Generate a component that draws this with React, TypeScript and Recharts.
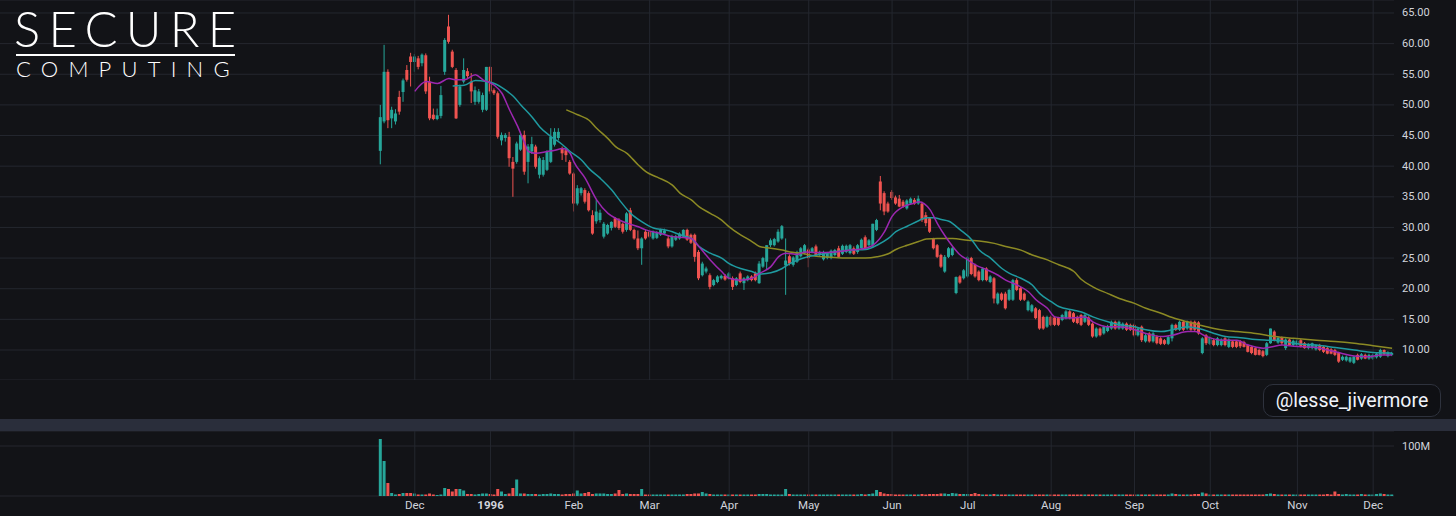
import {
  ComposedChart,
  BarChart,
  Bar,
  Line,
  XAxis,
  YAxis,
  CartesianGrid,
  ReferenceLine,
  Cell,
} from 'recharts';

// daily candles, one row per trading day: [open, high, low, close, volume (M)]
const nov95 = [
  [42.5, 50.0, 40.3, 48.0, 114], [47.3, 59.8, 47.0, 55.4, 70], [55.4, 55.8, 46.2, 47.5, 26],
  [47.8, 49.7, 46.2, 49.2, 6], [47.3, 49.3, 46.8, 48.6, 3], [51.3, 52.3, 48.4, 48.9, 4],
  [52.1, 54.3, 50.5, 54.0, 6], [55.7, 56.5, 53.8, 54.1, 6], [57.9, 58.5, 53.0, 57.0, 6],
];
const dec95 = [
  [57.0, 58.3, 55.4, 57.9, 5], [57.6, 58.0, 55.8, 56.2, 3], [56.8, 58.4, 56.3, 58.2, 3],
  [58.1, 58.4, 51.8, 52.2, 3], [53.8, 54.6, 47.5, 47.8, 5], [48.4, 49.4, 47.5, 47.7, 3],
  [47.7, 49.4, 47.5, 48.3, 2], [48.2, 53.1, 47.8, 51.6, 3], [55.4, 60.9, 54.9, 60.6, 16],
  [62.8, 64.7, 60.0, 60.3, 14], [58.7, 59.0, 56.0, 56.2, 9], [55.7, 56.0, 47.7, 47.8, 14],
  [50.0, 53.3, 49.7, 53.0, 14], [53.8, 57.6, 53.5, 55.7, 11], [55.5, 56.0, 54.2, 54.7, 4],
  [53.8, 55.2, 50.3, 52.2, 4], [50.5, 53.0, 50.0, 52.4, 3], [50.5, 52.6, 50.2, 52.2, 4],
  [49.2, 52.0, 48.8, 51.6, 5], [49.2, 56.2, 49.0, 56.2, 5],
];
const jan96 = [
  [56.2, 56.3, 51.8, 52.2, 4], [52.4, 52.7, 51.6, 51.9, 3], [51.9, 52.2, 44.5, 44.8, 14],
  [44.2, 45.5, 43.4, 45.1, 9], [44.6, 45.4, 44.0, 45.1, 4], [44.8, 45.6, 39.9, 41.3, 5],
  [40.7, 41.5, 35.0, 39.6, 16], [40.7, 44.0, 40.4, 43.7, 33], [42.7, 45.6, 42.5, 45.1, 5],
  [45.1, 45.8, 38.6, 39.1, 5], [40.7, 43.6, 37.2, 43.2, 4], [42.4, 44.8, 42.0, 43.6, 4],
  [43.2, 43.5, 39.6, 39.9, 4], [38.6, 41.6, 38.0, 41.3, 3], [38.6, 41.5, 38.3, 41.0, 4],
  [39.4, 42.6, 39.2, 42.4, 4], [40.7, 46.2, 40.5, 44.8, 5], [43.5, 46.2, 43.2, 45.6, 4],
  [44.6, 46.2, 44.2, 45.6, 4], [42.9, 43.2, 41.0, 42.1, 3], [42.6, 43.0, 40.7, 41.8, 4],
  [40.7, 41.0, 38.6, 38.8, 4],
];
const feb96 = [
  [38.8, 39.0, 32.6, 33.9, 5], [33.9, 36.9, 33.6, 36.4, 11], [35.6, 36.6, 35.2, 36.4, 5],
  [36.1, 36.4, 33.9, 34.2, 6], [35.6, 35.9, 32.6, 32.8, 8], [32.0, 32.8, 28.8, 29.0, 4],
  [31.0, 34.5, 30.6, 32.6, 5], [31.2, 32.9, 30.8, 32.4, 5], [28.5, 30.9, 28.2, 30.6, 5],
  [29.0, 30.6, 28.8, 30.4, 4], [29.9, 31.0, 29.5, 30.9, 4], [31.5, 31.7, 29.9, 30.1, 5],
  [31.2, 31.5, 29.6, 29.9, 12], [30.6, 30.8, 29.0, 29.3, 4], [29.6, 32.5, 29.3, 32.3, 5],
  [32.8, 33.2, 29.4, 29.6, 4], [29.6, 29.8, 28.0, 28.2, 4], [28.2, 29.5, 26.3, 26.6, 4],
  [26.6, 28.4, 23.9, 28.2, 14], [29.3, 29.6, 28.0, 28.2, 3],
];
const mar96 = [
  [29.3, 29.5, 28.3, 28.5, 3], [28.2, 29.5, 28.0, 29.3, 3], [28.3, 29.4, 28.1, 29.2, 3],
  [28.8, 29.8, 28.6, 29.6, 3], [29.0, 29.8, 28.8, 29.5, 3], [28.2, 28.6, 26.6, 26.9, 3],
  [26.9, 28.8, 26.7, 28.6, 3], [28.0, 28.8, 27.8, 28.6, 3], [28.2, 29.2, 28.0, 29.0, 3],
  [28.5, 29.7, 28.4, 29.6, 3], [29.6, 29.8, 27.8, 28.0, 4], [28.8, 29.0, 27.3, 27.5, 4],
  [28.8, 29.0, 24.4, 25.2, 5], [26.0, 26.3, 21.4, 21.7, 5], [22.2, 24.4, 22.0, 24.1, 8],
  [22.8, 23.6, 22.5, 23.3, 5], [22.2, 22.5, 19.9, 20.3, 4], [20.6, 21.6, 20.4, 21.4, 3],
  [21.1, 22.2, 20.9, 22.0, 3], [21.7, 22.3, 21.5, 22.1, 3], [22.1, 22.4, 21.3, 21.5, 3],
];
const apr96 = [
  [21.7, 22.7, 21.5, 22.5, 3], [21.7, 22.0, 19.8, 20.3, 3], [20.6, 21.9, 20.4, 21.7, 3],
  [22.5, 22.8, 20.9, 21.1, 3], [20.9, 21.9, 19.8, 21.7, 3], [21.4, 22.2, 21.2, 22.0, 3],
  [22.0, 22.2, 21.2, 21.4, 3], [22.5, 22.8, 21.2, 21.4, 3], [20.9, 24.5, 20.8, 24.1, 4],
  [23.6, 25.2, 23.4, 25.0, 4], [24.4, 27.1, 23.1, 27.1, 4], [27.1, 28.2, 26.8, 27.9, 3],
  [27.1, 28.3, 26.9, 28.1, 3], [27.7, 29.7, 27.5, 29.3, 3], [28.2, 30.4, 28.0, 30.2, 3],
  [23.8, 28.2, 19.0, 24.6, 14], [25.3, 25.6, 23.8, 24.1, 4], [23.9, 25.3, 23.6, 25.1, 3],
  [24.4, 26.2, 24.2, 26.0, 3], [25.3, 26.8, 25.1, 26.6, 3], [25.8, 27.3, 25.6, 27.1, 3],
];
const may96 = [
  [26.4, 26.7, 23.5, 25.0, 3], [26.0, 26.8, 25.8, 26.6, 3], [26.9, 27.2, 25.3, 25.5, 3],
  [25.5, 26.2, 25.3, 26.0, 3], [24.8, 26.2, 24.6, 26.0, 3], [25.0, 26.0, 24.8, 25.8, 3],
  [25.0, 26.4, 24.8, 26.2, 3], [25.5, 26.5, 25.3, 26.3, 3], [26.6, 27.0, 25.0, 25.2, 3],
  [25.7, 27.2, 25.5, 27.0, 3], [26.0, 27.2, 25.8, 27.0, 3], [25.8, 27.3, 25.6, 27.1, 3],
  [26.6, 26.9, 25.5, 25.7, 3], [26.0, 27.3, 25.7, 27.1, 3], [26.6, 28.2, 26.4, 28.0, 4],
  [28.4, 28.7, 26.4, 26.6, 3], [27.1, 28.1, 26.9, 27.9, 4], [27.1, 30.6, 26.7, 30.6, 5],
  [29.6, 31.4, 29.4, 31.2, 12], [37.5, 38.4, 32.8, 33.9, 8], [35.6, 35.9, 32.0, 32.6, 5],
  [33.9, 34.2, 32.4, 32.6, 4],
];
const jun96 = [
  [35.8, 36.1, 34.5, 34.8, 4], [34.9, 35.2, 33.7, 33.9, 3], [34.7, 35.3, 33.3, 33.4, 3],
  [34.2, 34.5, 33.2, 33.4, 3], [33.1, 34.6, 32.9, 34.4, 3], [33.9, 34.9, 33.7, 34.7, 3],
  [34.5, 34.8, 33.7, 33.9, 3], [33.9, 35.2, 33.7, 34.7, 3], [33.9, 34.2, 30.9, 31.2, 4],
  [32.0, 32.5, 30.2, 30.7, 3], [31.5, 31.7, 29.1, 29.3, 4], [28.2, 28.3, 26.4, 26.6, 4],
  [27.1, 27.3, 25.0, 25.2, 4], [25.5, 25.7, 23.4, 23.6, 5], [22.8, 25.5, 22.6, 25.2, 5],
  [25.2, 26.8, 25.0, 26.6, 4], [25.5, 26.8, 25.3, 26.6, 6], [19.3, 22.0, 19.1, 21.9, 5],
  [22.0, 22.2, 20.8, 21.0, 4], [21.7, 23.2, 21.5, 23.0, 4],
];
const jul96 = [
  [22.0, 25.3, 21.8, 25.1, 4], [25.0, 25.2, 22.2, 22.4, 4], [23.9, 24.1, 21.8, 22.0, 6],
  [22.8, 23.0, 21.2, 21.4, 4], [21.4, 23.5, 21.2, 23.3, 3], [23.3, 23.5, 21.2, 21.4, 3],
  [21.1, 22.2, 20.9, 22.0, 3], [21.7, 21.9, 17.6, 18.4, 4], [17.6, 19.4, 17.4, 19.2, 3],
  [19.2, 19.4, 18.0, 18.2, 3], [19.2, 19.5, 16.6, 16.8, 3], [18.2, 20.0, 18.0, 19.8, 3],
  [18.2, 21.6, 18.0, 21.4, 3], [21.4, 21.7, 19.6, 19.8, 3], [20.1, 20.3, 18.0, 18.2, 3],
  [19.2, 19.4, 18.0, 18.2, 3], [16.5, 18.1, 16.3, 17.9, 3], [16.3, 17.5, 16.1, 17.3, 3],
  [16.8, 17.0, 15.0, 15.2, 3], [16.5, 16.7, 13.3, 13.5, 3], [15.4, 15.6, 13.3, 13.5, 3],
  [13.8, 15.6, 13.6, 15.4, 3],
];
const aug96 = [
  [15.4, 15.6, 13.9, 14.1, 3], [15.3, 15.5, 13.9, 14.1, 3], [15.2, 15.4, 13.9, 14.1, 3],
  [14.9, 15.9, 14.7, 15.7, 3], [15.2, 16.5, 15.0, 16.3, 3], [16.3, 16.5, 15.0, 15.2, 3],
  [16.0, 16.2, 14.4, 14.6, 3], [15.4, 15.6, 14.2, 14.4, 3], [15.7, 15.9, 13.9, 14.1, 3],
  [14.6, 15.9, 14.4, 15.7, 3], [15.3, 15.5, 13.9, 14.1, 3], [14.3, 14.5, 12.0, 12.2, 3],
  [12.2, 13.7, 12.0, 13.5, 3], [13.5, 13.7, 12.2, 12.4, 3], [12.7, 14.0, 12.5, 13.8, 3],
  [13.1, 14.1, 12.9, 13.9, 3], [13.5, 14.8, 13.3, 14.6, 3], [14.6, 14.8, 13.3, 13.5, 3],
  [13.5, 14.8, 13.3, 14.6, 3], [13.5, 14.5, 13.3, 14.3, 3], [14.3, 14.5, 13.1, 13.3, 3],
  [14.1, 14.3, 13.1, 13.3, 3],
];
const sep96 = [
  [14.1, 14.3, 12.2, 12.4, 3], [12.4, 13.7, 12.2, 13.5, 3], [13.8, 14.0, 11.3, 11.6, 3],
  [11.4, 12.6, 11.2, 12.4, 3], [12.7, 12.9, 11.2, 11.4, 3], [11.4, 12.9, 11.2, 12.7, 3],
  [12.2, 12.4, 10.9, 11.1, 3], [11.9, 12.1, 10.8, 11.0, 3], [11.6, 11.8, 10.8, 11.0, 3],
  [11.0, 12.3, 10.8, 12.1, 3], [11.9, 14.3, 11.4, 14.1, 5], [14.1, 14.3, 13.1, 13.3, 4],
  [13.3, 14.8, 13.1, 14.6, 3], [14.6, 14.8, 13.1, 13.3, 3], [13.5, 14.8, 13.3, 14.6, 3],
  [14.6, 14.8, 13.1, 13.3, 3], [14.6, 14.8, 13.1, 13.3, 4], [14.5, 14.7, 12.5, 12.7, 4],
  [9.5, 12.1, 9.3, 11.9, 7], [12.4, 12.6, 10.8, 11.1, 5],
];
const oct96 = [
  [11.0, 12.2, 10.8, 12.0, 3], [11.6, 11.8, 10.6, 10.8, 3], [10.8, 12.1, 10.6, 11.9, 3],
  [10.8, 11.9, 10.6, 11.7, 3], [11.9, 12.1, 10.6, 10.8, 3], [10.5, 11.9, 10.3, 11.7, 3],
  [11.4, 11.6, 10.3, 10.5, 3], [11.4, 11.6, 10.3, 10.5, 3], [11.4, 11.6, 10.3, 10.6, 3],
  [11.3, 11.5, 10.4, 10.5, 3], [10.8, 11.0, 9.6, 9.7, 3], [10.5, 10.7, 9.3, 9.5, 3],
  [10.3, 10.5, 9.1, 9.2, 3], [10.0, 10.2, 9.1, 9.2, 3], [9.8, 10.0, 8.8, 9.0, 3],
  [9.2, 11.3, 9.0, 11.1, 4], [11.1, 13.5, 11.0, 13.5, 5], [13.0, 13.2, 11.4, 11.6, 4],
  [11.2, 12.2, 11.0, 12.0, 3], [12.0, 12.2, 10.8, 11.1, 3], [10.3, 11.9, 10.0, 11.7, 3],
  [11.7, 11.9, 10.7, 10.8, 3], [10.8, 11.7, 10.6, 11.5, 3],
];
const nov96 = [
  [10.8, 11.7, 10.6, 11.5, 3], [11.6, 11.8, 10.4, 10.5, 3], [11.1, 11.3, 10.2, 10.3, 3],
  [10.3, 11.1, 10.1, 11.0, 3], [10.3, 11.2, 10.1, 11.1, 3], [10.1, 10.9, 9.9, 10.8, 3],
  [10.8, 11.0, 9.8, 10.0, 3], [10.5, 10.7, 9.5, 9.7, 3], [10.3, 10.5, 9.3, 9.4, 4],
  [10.1, 10.3, 9.3, 9.4, 3], [10.0, 10.2, 9.0, 9.2, 9], [9.5, 9.7, 7.9, 8.1, 4],
  [8.4, 9.1, 8.2, 8.9, 3], [8.3, 9.1, 8.1, 8.9, 4], [8.1, 8.9, 7.9, 8.8, 3],
  [7.9, 9.0, 7.7, 8.9, 3], [9.2, 9.4, 8.3, 8.4, 3], [8.6, 9.5, 8.4, 9.3, 4],
  [9.2, 9.4, 8.5, 8.6, 3], [8.6, 9.4, 8.4, 9.2, 3],
];
const dec96 = [
  [8.6, 9.4, 8.4, 9.2, 3], [8.8, 9.6, 8.6, 9.4, 4], [8.9, 10.2, 8.7, 10.0, 5],
  [10.0, 10.1, 9.2, 9.3, 4], [9.0, 9.8, 8.8, 9.6, 3], [9.2, 9.7, 9.0, 9.5, 3],
];

// moving averages: [day index, value]
const ma10Pts = [
  [9, 52.2], [12, 53.8], [15, 53.5], [18, 54.3], [20, 54.1], [22, 54.1], [25, 54.9], [27, 54.1],
  [30, 53.2], [32, 51.9], [34, 49.2], [36, 46.7], [38, 43.8], [39, 42.4], [41, 42.1], [44, 42.4],
  [46, 42.6], [48, 42.9], [50, 42.1], [51, 40.7], [54, 38.0], [57, 34.5], [60, 32.3], [62, 31.5],
  [65, 30.7], [68, 30.1], [70, 29.6], [74, 29.0], [77, 28.5], [79, 28.4], [82, 28.2], [84, 26.9],
  [87, 24.7], [90, 22.8], [92, 21.7], [95, 21.4], [98, 21.7], [100, 22.5], [103, 23.6], [105, 25.2],
  [107, 25.8], [110, 25.6], [112, 26.0], [115, 25.9], [120, 26.0], [124, 26.3], [128, 26.6],
  [130, 27.1], [133, 29.3], [135, 31.8], [138, 33.4], [141, 34.0], [142, 34.2], [145, 32.9],
  [147, 30.6], [149, 28.6], [151, 26.9], [153, 25.5], [155, 24.7], [157, 23.9], [160, 23.1],
  [163, 22.2], [165, 21.4], [168, 20.6], [171, 19.5], [173, 18.2], [176, 16.8], [178, 15.4],
  [181, 15.2], [184, 15.3], [186, 15.4], [188, 14.6], [192, 13.8], [195, 13.8], [199, 13.3],
  [202, 12.7], [206, 12.2], [209, 12.4], [213, 13.0], [215, 13.0], [218, 12.2], [222, 11.6],
  [226, 11.6], [229, 10.8], [233, 10.3], [235, 10.5], [238, 10.8], [241, 10.6], [247, 10.4],
  [250, 10.0], [254, 9.4], [257, 9.0], [261, 8.9], [264, 9.2], [267, 9.2],
];
const ma20Pts = [
  [19, 53.1], [22, 53.2], [25, 54.0], [28, 53.8], [30, 53.5], [33, 52.4], [35, 51.4], [37, 50.0],
  [40, 48.0], [42, 46.4], [45, 44.8], [48, 43.5], [50, 42.4], [53, 41.0], [55, 39.6], [58, 38.0],
  [61, 36.1], [63, 34.5], [66, 32.3], [69, 30.9], [72, 29.9], [75, 29.6], [77, 29.3], [79, 28.8],
  [82, 28.2], [84, 26.9], [87, 25.8], [90, 25.0], [92, 24.1], [95, 23.3], [98, 22.8], [100, 22.4],
  [103, 22.6], [106, 23.3], [108, 24.1], [111, 24.9], [115, 25.5], [120, 26.0], [124, 26.3],
  [128, 26.4], [131, 27.1], [134, 28.2], [136, 29.3], [139, 30.2], [142, 31.1], [144, 31.6],
  [146, 31.6], [148, 31.3], [150, 31.0], [153, 29.6], [156, 28.0], [158, 26.3], [161, 25.0],
  [164, 23.3], [166, 22.5], [169, 21.7], [172, 20.6], [174, 19.2], [177, 17.9], [179, 17.1],
  [183, 16.5], [185, 16.2], [188, 15.4], [192, 14.6], [195, 14.1], [199, 13.8], [202, 13.3],
  [206, 13.0], [209, 13.3], [213, 13.8], [216, 13.5], [220, 12.7], [223, 12.2], [227, 12.0],
  [231, 11.7], [234, 11.6], [238, 11.5], [241, 11.1], [247, 10.8], [252, 10.4], [257, 10.0],
  [262, 9.6], [267, 9.5],
];
const ma50Pts = [
  [49, 49.2], [52, 48.4], [55, 47.5], [57, 46.2], [60, 44.5], [62, 43.2], [65, 42.1], [68, 40.2],
  [70, 39.1], [73, 38.2], [77, 36.9], [79, 35.6], [82, 34.5], [84, 33.4], [87, 32.3], [90, 31.2],
  [92, 30.1], [95, 28.8], [98, 27.7], [100, 26.9], [103, 26.6], [106, 26.3], [108, 26.0],
  [111, 25.8], [115, 25.3], [120, 25.1], [124, 25.0], [128, 25.0], [131, 25.2], [134, 25.7],
  [136, 26.4], [139, 27.1], [142, 27.7], [144, 28.1], [147, 28.2], [151, 28.2], [155, 27.9],
  [158, 27.8], [162, 27.4], [165, 26.9], [169, 26.3], [172, 25.5], [176, 24.7], [179, 23.9],
  [183, 22.8], [185, 21.5], [188, 20.3], [192, 19.2], [195, 18.4], [199, 17.6], [202, 16.8],
  [206, 16.0], [209, 15.3], [213, 14.6], [216, 14.1], [220, 13.5], [223, 13.2], [226, 13.0],
  [231, 12.7], [236, 12.2], [241, 11.9], [247, 11.6], [252, 11.4], [257, 11.1], [262, 10.7],
  [267, 10.3],
];

// first trading day of each month, and its label
const monthTicks = [9, 29, 51, 71, 92, 113, 135, 155, 177, 199, 219, 242, 262];
const monthLabels = ['Dec', '1996', 'Feb', 'Mar', 'Apr', 'May', 'Jun', 'Jul', 'Aug', 'Sep', 'Oct', 'Nov', 'Dec'];
const priceTicks = [10, 15, 20, 25, 30, 35, 40, 45, 50, 55, 60, 65];
const volumeTicks = [100];

const BG = '#121317';
const GRID = '#24272f';
const UP = '#26a69a';
const DOWN = '#ef5350';
const TEXT = '#d1d4dc';
const FONT = 'Roboto, "Noto Sans", sans-serif';
const PAD = 100; // empty days left of the listing, TradingView scrolled view

const candles = [nov95, dec95, jan96, feb96, mar96, apr96, may96, jun96, jul96, aug96, sep96, oct96, nov96, dec96].flat();
const ma10 = new Map(ma10Pts.map(([i, v]) => [i, v]));
const ma20 = new Map(ma20Pts.map(([i, v]) => [i, v]));
const ma50 = new Map(ma50Pts.map(([i, v]) => [i, v]));

const rows = Array.from({ length: PAD + candles.length }, (_, k) => {
  const d = k - PAD;
  const c = candles[d];
  if (!c) return { d };
  const [o, h, l, cl, v] = c;
  return {
    d, o, h, l, c: cl, v,
    hl: [l, h],
    m10: ma10.get(d) ?? null,
    m20: ma20.get(d) ?? null,
    m50: ma50.get(d) ?? null,
  };
});

const Candle = (props: any) => {
  const { x, y, width, height, payload } = props;
  if (!payload || payload.o == null) return null;
  const { o, h, l, c } = payload;
  const top = Math.min(y, y + height);
  const span = Math.abs(height);
  const k = span / (h - l);
  const yo = top + (h - o) * k;
  const yc = top + (h - c) * k;
  const color = c >= o ? UP : DOWN;
  const cx = x + width / 2;
  return (
    <g>
      <line x1={cx} x2={cx} y1={top} y2={top + span} stroke={color} strokeWidth={1} />
      <rect x={x} y={Math.min(yo, yc)} width={width} height={Math.max(1, Math.abs(yo - yc))} fill={color} />
    </g>
  );
};

const PriceTick = ({ y, payload }: any) => (
  <text x={1402} y={y} fill={TEXT} fontSize={11} fontFamily={FONT} dominantBaseline="central">
    {Number(payload.value).toFixed(2)}
  </text>
);

const VolumeTick = ({ y, payload }: any) => (
  <text x={1402} y={y} fill={TEXT} fontSize={11} fontFamily={FONT} dominantBaseline="central">
    {payload.value}M
  </text>
);

const TimeTick = ({ x, payload }: any) => {
  const label = monthLabels[monthTicks.indexOf(payload.value)];
  return (
    <text x={x} y={74} fill={TEXT} fontSize={11.5} fontFamily={FONT} textAnchor="middle"
      dominantBaseline="central" fontWeight={label === '1996' ? 700 : 400}>
      {label}
    </text>
  );
};

export default function App() {
  return (
    <div style={{ position: 'fixed', left: 0, top: 0, width: 1456, height: 516, background: BG, overflow: 'hidden' }}>
      <ComposedChart width={1456} height={380} data={rows} margin={{ top: 0, right: 0, bottom: 0, left: 0 }}>
        <CartesianGrid vertical={false} stroke={GRID} />
        <XAxis dataKey="d" type="category" hide />
        <YAxis orientation="right" width={62} domain={[5.1, 67.12]} ticks={priceTicks} allowDataOverflow
          axisLine={false} tickLine={false} tick={PriceTick} />
        {monthTicks.map((t) => (
          <ReferenceLine key={t} x={t} stroke={GRID} />
        ))}
        <Bar dataKey="hl" barSize={3} shape={Candle} isAnimationActive={false} />
        <Line dataKey="m50" type="monotone" stroke="#8c8a24" strokeWidth={1.5} dot={false} connectNulls isAnimationActive={false} />
        <Line dataKey="m20" type="monotone" stroke="#1f9aa0" strokeWidth={1.5} dot={false} connectNulls isAnimationActive={false} />
        <Line dataKey="m10" type="monotone" stroke="#9c27b0" strokeWidth={1.5} dot={false} connectNulls isAnimationActive={false} />
      </ComposedChart>

      <div style={{ position: 'absolute', left: 0, top: 419, width: 1456, height: 12, background: '#2a2e3b' }} />

      <div style={{ position: 'absolute', left: 0, top: 431 }}>
        <BarChart width={1456} height={85} data={rows} margin={{ top: 0, right: 0, bottom: 0, left: 0 }}>
          <CartesianGrid vertical={false} stroke={GRID} />
          <XAxis dataKey="d" type="category" ticks={monthTicks} interval={0} height={20}
            axisLine={false} tickLine={false} tick={TimeTick} />
          <YAxis orientation="right" width={62} domain={[0, 130]} ticks={volumeTicks}
            axisLine={false} tickLine={false} tick={VolumeTick} />
          {monthTicks.map((t) => (
            <ReferenceLine key={t} x={t} stroke={GRID} />
          ))}
          <Bar dataKey="v" barSize={3} isAnimationActive={false}>
            {rows.map((r: any) => (
              <Cell key={r.d} fill={r.c >= r.o ? UP : DOWN} />
            ))}
          </Bar>
        </BarChart>
      </div>

      <div style={{ position: 'absolute', left: 14, top: 3, color: '#fff', fontFamily: 'Lato, sans-serif', fontWeight: 300,
        fontSize: 49, lineHeight: '50px', letterSpacing: 8.3, whiteSpace: 'nowrap' }}>
        SECURE
      </div>
      <div style={{ position: 'absolute', left: 16, top: 54, width: 219, height: 2, background: '#fff' }} />
      <div style={{ position: 'absolute', left: 16, top: 58, color: '#fff', fontFamily: 'Lato, sans-serif', fontWeight: 300,
        fontSize: 22, lineHeight: '22px', letterSpacing: 10.2, whiteSpace: 'nowrap' }}>
        COMPUTING
      </div>

      <div style={{ position: 'absolute', left: 1263, top: 384, width: 176, height: 31, border: '1px solid #2e323d',
        borderRadius: 10, background: '#0f1014', color: '#f0f3fa', fontFamily: FONT, fontSize: 19.5,
        display: 'flex', alignItems: 'center', justifyContent: 'center' }}>
        @lesse_jivermore
      </div>
    </div>
  );
}
